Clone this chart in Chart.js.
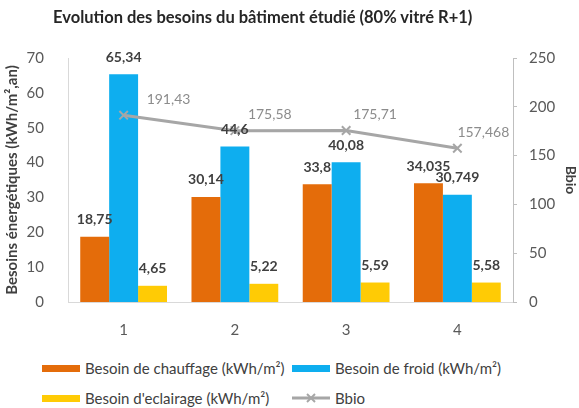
<!DOCTYPE html>
<html>
<head>
<meta charset="utf-8">
<script src="https://cdn.jsdelivr.net/npm/chart.js@4/dist/chart.umd.min.js"></script>
<style>
    body { margin: 0; background: #fff; font-family: Lato, "Open Sans", sans-serif; }
    #wrap { position: relative; width: 579px; height: 408px; }
    #box { position: absolute; left: 0; top: 0; width: 579px; height: 345px; }
    #title { position: absolute; left: 53px; top: 7px; font-size: 16.5px; font-weight: bold; color: #262626; line-height: 20px; white-space: nowrap; }
    .item { position: absolute; font-size: 15px; color: #404040; white-space: nowrap; line-height: 18px; }
    .swatch { position: absolute; left: 0; top: 6px; width: 38px; height: 7px; }
    .item span.txt { position: absolute; left: 43px; top: 0; }
    .item svg { position: absolute; left: 0; top: 3px; }
</style>
</head>
<body>
<div id="wrap">
    <div id="box"><canvas id="chart"></canvas></div>
    <div id="title">Evolution des besoins du bâtiment étudié (80% vitré R+1)</div>
    <div id="legend"></div>
</div>
<script>
// categories (variants) and series
const categories = ['1', '2', '3', '4'];
const chauffage = [18.75, 30.14, 33.8, 34.035];
const froid = [65.34, 44.6, 40.08, 30.749];
const eclairage = [4.65, 5.22, 5.59, 5.58];
const bbio = [191.43, 175.58, 175.71, 157.468];

const seriesLabels = [
    'Besoin de chauffage (kWh/m²)',
    'Besoin de froid (kWh/m²)',
    'Besoin d\'eclairage (kWh/m²)',
    'Bbio'
];
const seriesColors = ['#E46C0A', '#0EAEEF', '#FFCB05', '#A6A6A6'];

const leftTicks = { min: 0, max: 70, step: 10 };
const rightTicks = { min: 0, max: 250, step: 50 };

const FONT = 'Lato, "Open Sans", sans-serif';

// horizontal shift of each Bbio label from its point
const bbioLabelDx = [23, 13, 7, 0];

// "18.75" -> "18,75"
function frNum(v) {
    return String(v).replace('.', ',');
}

// value labels above bars and beside the Bbio points
const valueLabels = {
    id: 'valueLabels',
    afterDatasetsDraw(chart) {
        const ctx = chart.ctx;
        ctx.save();
        ctx.textBaseline = 'middle';
        chart.data.datasets.forEach((ds, i) => {
            const meta = chart.getDatasetMeta(i);
            meta.data.forEach((el, j) => {
                const txt = frNum(ds.data[j]);
                if (ds.type === 'line') {
                    ctx.font = '14px ' + FONT;
                    ctx.fillStyle = '#8C8C8C';
                    ctx.textAlign = 'left';
                    ctx.fillText(txt, el.x + bbioLabelDx[j], el.y - 16);
                } else {
                    ctx.font = 'bold 14px ' + FONT;
                    ctx.fillStyle = '#404040';
                    ctx.textAlign = 'center';
                    ctx.fillText(txt, el.x, el.y - 17);
                }
            });
        });
        ctx.restore();
    }
};

const barDefaults = {
    type: 'bar',
    yAxisID: 'y',
    order: 1,
    categoryPercentage: 0.78,
    barPercentage: 1.0
};

const ctx = document.getElementById('chart').getContext('2d');
const chart = new Chart(ctx, {
    data: {
        labels: categories,
        datasets: [
            Object.assign({ label: seriesLabels[0], data: chauffage, backgroundColor: seriesColors[0] }, barDefaults),
            Object.assign({ label: seriesLabels[1], data: froid, backgroundColor: seriesColors[1] }, barDefaults),
            Object.assign({ label: seriesLabels[2], data: eclairage, backgroundColor: seriesColors[2] }, barDefaults),
            {
                type: 'line',
                label: seriesLabels[3],
                data: bbio,
                yAxisID: 'y1',
                order: 0,
                borderColor: seriesColors[3],
                borderWidth: 3,
                pointStyle: 'crossRot',
                pointRadius: 6,
                pointBorderColor: '#A6A6A6',
                pointBorderWidth: 2,
                fill: false,
                tension: 0
            }
        ]
    },
    options: {
        responsive: true,
        maintainAspectRatio: false,
        animation: false,
        layout: { padding: { top: 58, left: 0, right: 0, bottom: 0 } },
        plugins: {
            legend: { display: false },
            tooltip: { enabled: false },
            title: { display: false }
        },
        scales: {
            x: {
                grid: { display: false },
                border: { display: true, color: '#D9D9D9', width: 1 },
                ticks: { color: '#595959', font: { family: FONT, size: 15 }, padding: 11 },
                afterFit(scale) { scale.height = 43; }
            },
            y: {
                position: 'left',
                min: leftTicks.min,
                max: leftTicks.max,
                grid: { display: false },
                border: { display: true, color: '#D9D9D9', width: 1 },
                ticks: {
                    stepSize: leftTicks.step,
                    color: '#595959',
                    padding: 16,
                    font: { family: FONT, size: 15 }
                },
                title: {
                    display: true,
                    text: 'Besoins énergétiques (kWh/m²,an)',
                    color: '#404040',
                    font: { family: FONT, size: 15, weight: 'bold' },
                    padding: { top: 3, bottom: 0 }
                },
                afterFit(scale) { scale.width = 68; }
            },
            y1: {
                position: 'right',
                min: rightTicks.min,
                max: rightTicks.max,
                grid: { drawOnChartArea: false, drawTicks: true, tickLength: 4, color: '#BFBFBF' },
                border: { display: true, color: '#BFBFBF', width: 1 },
                ticks: {
                    stepSize: rightTicks.step,
                    color: '#595959',
                    padding: 12,
                    font: { family: FONT, size: 15 }
                },
                title: {
                    display: true,
                    text: 'Bbio',
                    color: '#404040',
                    font: { family: FONT, size: 14, weight: 'bold' },
                    padding: { top: 0, bottom: 2 }
                },
                afterFit(scale) { scale.width = 66; }
            }
        }
    },
    plugins: [valueLabels]
});

// legend under the chart, two rows of two items
const legendPos = [[42, 359], [292, 359], [42, 389], [292, 389]];
const legend = document.getElementById('legend');
seriesLabels.forEach((label, i) => {
    const item = document.createElement('div');
    item.className = 'item';
    item.style.left = legendPos[i][0] + 'px';
    item.style.top = legendPos[i][1] + 'px';
    if (i < 3) {
        const sw = document.createElement('div');
        sw.className = 'swatch';
        sw.style.background = seriesColors[i];
        item.appendChild(sw);
    } else {
        // line sample with the cross marker
        const c = seriesColors[i];
        item.insertAdjacentHTML('beforeend',
            '<svg width="38" height="12" viewBox="0 0 38 12">' +
            '<line x1="0" y1="6" x2="38" y2="6" stroke="' + c + '" stroke-width="3"/>' +
            '<line x1="15" y1="2" x2="23" y2="10" stroke="' + c + '" stroke-width="2"/>' +
            '<line x1="15" y1="10" x2="23" y2="2" stroke="' + c + '" stroke-width="2"/>' +
            '</svg>');
    }
    const txt = document.createElement('span');
    txt.className = 'txt';
    txt.textContent = label;
    item.appendChild(txt);
    legend.appendChild(item);
});
</script>
</body>
</html>
